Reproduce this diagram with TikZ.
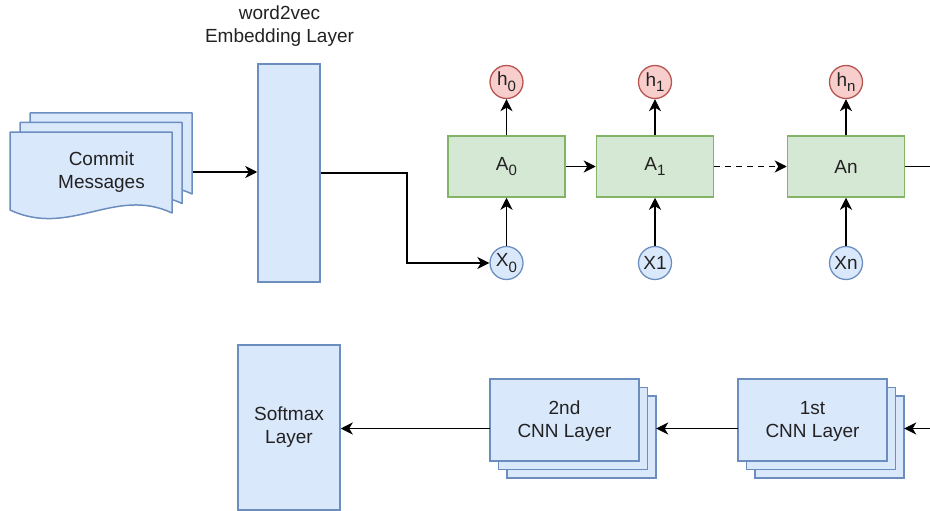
\documentclass[tikz,border=0pt]{standalone}
\usepackage{fontspec}
\setmainfont{Liberation Sans}
\usetikzlibrary{arrows.meta}
\definecolor{bfill}{HTML}{DAE8FC}
\definecolor{bstroke}{HTML}{6C8EBF}
\definecolor{gfill}{HTML}{D5E8D4}
\definecolor{gstroke}{HTML}{82B366}
\definecolor{rfill}{HTML}{F8CECC}
\definecolor{rstroke}{HTML}{B85450}
\definecolor{txt}{HTML}{222222}
\newcommand\lowsub[1]{\raisebox{-0.3em}{\fontsize{15}{15}\selectfont #1}}
\begin{document}
\begin{tikzpicture}[x=1pt,y=-1pt,
  font=\fontsize{19}{23}\selectfont, text=txt,
  bluebox/.style={draw=bstroke, fill=bfill, line width=1.5pt, inner sep=0pt},
  docshape/.style={draw=bstroke, fill=bfill, line width=1.5pt, line join=round},
  greenbox/.style={draw=gstroke, fill=gfill, line width=1.5pt, minimum width=117pt, minimum height=61pt, inner sep=0pt},
  hcirc/.style={circle, draw=rstroke, fill=rfill, line width=1.3pt, minimum size=33pt, inner sep=0pt},
  xcirc/.style={circle, draw=bstroke, fill=bfill, line width=1.3pt, minimum size=33pt, inner sep=0pt},
  ghost/.style={draw=none, inner sep=0pt},
  conn/.style={line width=1.8pt, -{Stealth[length=12pt,width=12pt,inset=3.5pt]}},
  dconn/.style={conn, dash pattern=on 6pt off 5pt}]
\useasboundingbox (0,0) rectangle (930,511);

% Commit messages (multi-document)
\foreach \dx/\dy in {20/-19, 10/-9.5, 0/0}{
  \path[docshape, shift={(\dx,\dy)}] (10,132) -- (172,132) -- (172,213)
    .. controls (115,186) and (70,238) .. (10,210) -- cycle;
}
\node[ghost, minimum width=183pt, minimum height=100pt, align=center] (cm) at (101.5,172) {Commit\\Messages};

% Embedding layer
\node[bluebox, minimum width=62pt, minimum height=218pt] (emb) at (289,173) {};
\node[ghost, align=center] (embl) at (279.5,26) {word2vec\\Embedding Layer};

% LSTM chain
\node[greenbox] (A0) at (506.5,166.5) {A\lowsub{0}};
\node[greenbox] (A1) at (655,166.5) {A\lowsub{1}};
\node[greenbox] (An) at (846,166.5) {An};
\node[hcirc] (h0) at (506.5,82) {h\lowsub{0}};
\node[hcirc] (h1) at (655,82) {h\lowsub{1}};
\node[hcirc] (hn) at (846,82) {h\lowsub{n}};
\node[xcirc] (x0) at (506.5,263) {X\lowsub{0}};
\node[xcirc] (x1) at (655,263) {X1};
\node[xcirc] (xn) at (846,263) {Xn};

% Softmax
\node[bluebox, minimum width=102pt, minimum height=165pt, align=center] (sm) at (289,427.5) {Softmax\\Layer};

% CNN stacks
\foreach \o in {17,8.5,0}{
  \node[bluebox, minimum width=149pt, minimum height=82pt] at ({564.5+\o},{420+\o}) {};
  \node[bluebox, minimum width=149pt, minimum height=82pt] at ({812.5+\o},{420+\o}) {};
}
\node[ghost, align=center] (cnn2t) at (564.5,421) {2nd\\CNN Layer};
\node[ghost, align=center] (cnn1t) at (812.5,421) {1st\\CNN Layer};
\node[ghost, minimum width=166pt, minimum height=99pt] (cnn2) at (573,428.5) {};
\node[ghost, minimum width=166pt, minimum height=99pt] (cnn1) at (821,428.5) {};

% connectors
\draw[conn] (cm.east) -- (cm.east -| emb.west);
\draw[conn] (emb.east) -- ++(86,0) |- (x0.west);
\draw[conn] (x0) -- (A0);
\draw[conn] (x1) -- (A1);
\draw[conn] (xn) -- (An);
\draw[conn] (A0) -- (h0);
\draw[conn] (A1) -- (h1);
\draw[conn] (An) -- (hn);
\draw[conn] (A0) -- (A1);
\draw[dconn] (A1) -- (An);
\draw[conn] (An.east) -- ++(70,0) |- (cnn1.east);
\draw[conn] (cnn1.west) -- (cnn2.east);
\draw[conn] (cnn2.west) -- (cnn2.west -| sm.east);
\end{tikzpicture}
\end{document}
